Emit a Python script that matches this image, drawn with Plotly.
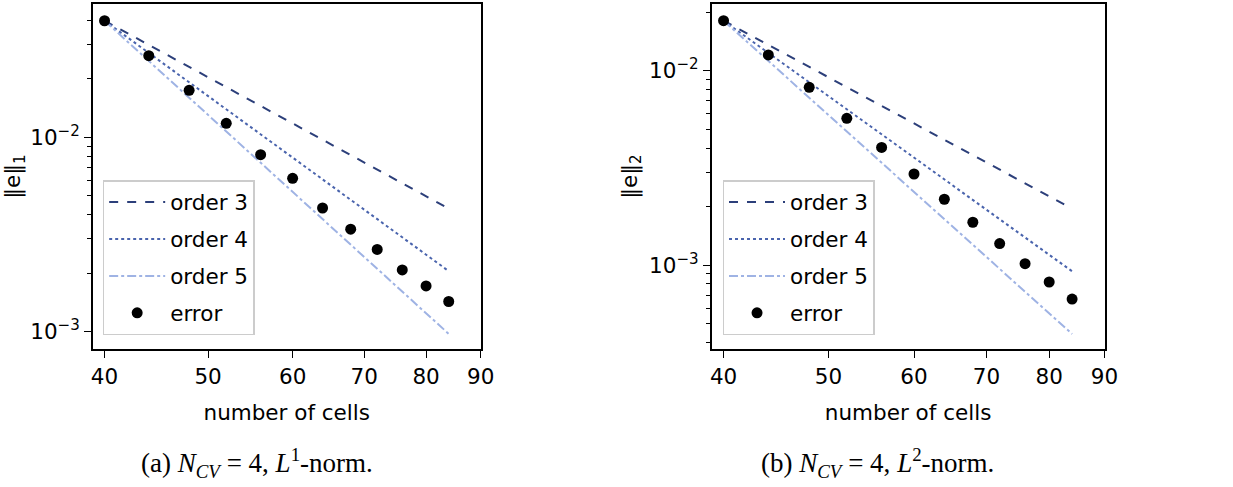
import math
import plotly.graph_objects as go

# Grid sizes (number of cells)
cells = [40, 44, 48, 52, 56, 60, 64, 68, 72, 76, 80, 84]

# Measured errors
err_l1 = [0.0398, 0.0263, 0.01746, 0.0118, 0.00814, 0.00615, 0.00433,
          0.00337, 0.00265, 0.00208, 0.00172, 0.00143]
err_l2 = [0.01807, 0.01205, 0.00821, 0.00569, 0.00403, 0.00294, 0.00218,
          0.00166, 0.00129, 0.001016, 0.000818, 0.000668]

# Reference slope lines (start / end values)
ref_x = [40, 84]
ref_l1 = {"order 3": [0.0398, 0.00430],
          "order 4": [0.0398, 0.00205],
          "order 5": [0.0398, 0.000975]}
ref_l2 = {"order 3": [0.01807, 0.00195],
          "order 4": [0.01807, 0.000929],
          "order 5": [0.01807, 0.000442]}

x_ticks = [40, 50, 60, 70, 80, 90]
y_major = [1e-2, 1e-3]
y_major_text = ["10<sup>−2</sup>", "10<sup>−3</sup>"]

styles = {"order 3": dict(color="#2c3f7a", dash="dash"),
          "order 4": dict(color="#4a64ad", dash="dot"),
          "order 5": dict(color="#9fb3e4", dash="dashdot")}

W, H = 1233, 487
FONT = "DejaVu Sans"
FS = 21.5

fig = go.Figure()

panels = [
    dict(ref=ref_l1, err=err_l1, xa="x", ya="y", legend="legend", tag="a"),
    dict(ref=ref_l2, err=err_l2, xa="x2", ya="y2", legend="legend2", tag="b"),
]
for p in panels:
    for name, vals in p["ref"].items():
        fig.add_trace(go.Scatter(
            x=ref_x, y=vals, mode="lines", name=name,
            legendgroup=p["tag"] + name,
            line=dict(width=2, **styles[name]),
            xaxis=p["xa"], yaxis=p["ya"], legend=p["legend"]))
    fig.add_trace(go.Scatter(
        x=cells, y=p["err"], mode="markers", name="error",
        legendgroup=p["tag"] + "error",
        marker=dict(color="black", size=11),
        xaxis=p["xa"], yaxis=p["ya"], legend=p["legend"]))


def px_x(a, b):
    return [a / W, b / W]


def px_y(top, bottom):
    return [1 - bottom / H, 1 - top / H]


common_x = dict(type="log", range=[math.log10(39.0), math.log10(90)],
                tickvals=x_ticks, ticktext=[str(v) for v in x_ticks],
                ticks="outside", ticklen=7, tickwidth=1.3, tickcolor="black",
                showline=True, linecolor="black", linewidth=1.5, mirror=True,
                showgrid=False, zeroline=False,
                tickfont=dict(family=FONT, size=FS, color="black"),
                title=dict(text="number of cells", standoff=17,
                           font=dict(family=FONT, size=FS, color="black")))

minor_l1 = [v * m for v in (1e-3, 1e-2) for m in range(2, 10)]
minor_l2 = [v * m for v in (1e-4, 1e-3, 1e-2) for m in range(2, 10)]


def yaxis(lo, hi, minor_vals, title):
    return dict(type="log", range=[lo, hi],
                tickvals=y_major, ticktext=y_major_text,
                ticks="outside", ticklen=7, tickwidth=1.3, tickcolor="black",
                minor=dict(tickvals=minor_vals, ticks="outside", ticklen=4,
                           tickwidth=1, tickcolor="black"),
                showline=True, linecolor="black", linewidth=1.5, mirror=True,
                showgrid=False, zeroline=False,
                tickfont=dict(family=FONT, size=FS, color="black"),
                title=dict(text=title, standoff=6,
                           font=dict(family=FONT, size=FS, color="black")))


legend_common = dict(bgcolor="rgba(255,255,255,0.8)", bordercolor="#cccccc",
                     borderwidth=1.5, xanchor="left", yanchor="top",
                     font=dict(family=FONT, size=FS, color="black"),
                     itemwidth=56, tracegroupgap=6)

fig.update_layout(
    width=W, height=H, margin=dict(l=0, r=0, t=0, b=0),
    paper_bgcolor="white", plot_bgcolor="white",
    showlegend=True,
    xaxis=dict(domain=px_x(92, 485), anchor="y", **common_x),
    yaxis=dict(domain=px_y(4, 349), anchor="x",
               **yaxis(-3.089, -1.314, minor_l1, "‖e‖<sub>1</sub>")),
    xaxis2=dict(domain=px_x(719, 1117), anchor="y2", **common_x),
    yaxis2=dict(domain=px_y(4, 349), anchor="x2",
                **yaxis(-3.432, -1.657, minor_l2, "‖e‖<sub>2</sub>")),
    legend=dict(x=102 / W, y=1 - 180 / H, **legend_common),
    legend2=dict(x=730 / W, y=1 - 180 / H, **legend_common),
)

CAP = "Liberation Serif"
fig.add_annotation(x=258 / W, y=1 - 463 / H, xref="paper", yref="paper",
                   xanchor="center", yanchor="middle",
                   text="(a) <i>N</i><sub><i>CV</i></sub> = 4, <i>L</i><sup>1</sup>-norm.",
                   showarrow=False, font=dict(family=CAP, size=27, color="black"))
fig.add_annotation(x=887 / W, y=1 - 463 / H, xref="paper", yref="paper",
                   xanchor="center", yanchor="middle",
                   text="(b) <i>N</i><sub><i>CV</i></sub> = 4, <i>L</i><sup>2</sup>-norm.",
                   showarrow=False, font=dict(family=CAP, size=27, color="black"))

fig.write_html("out.html")
